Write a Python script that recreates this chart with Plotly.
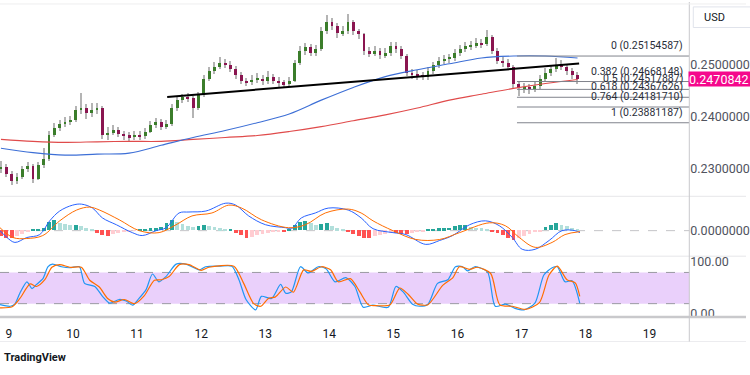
import numpy as np
import plotly.graph_objects as go

# ---------------- data (2-hour candles, x in days of month) ----------------
opens = [0.23002, 0.23039, 0.22908, 0.22777, 0.22852, 0.23002, 0.23058, 0.22814, 0.23076, 0.23189,
         0.23657, 0.23788, 0.23863, 0.23901, 0.23938, 0.24125, 0.24163, 0.24069, 0.24125, 0.24163,
         0.23657, 0.23695, 0.23751, 0.23676, 0.23638, 0.23601, 0.23657, 0.23620, 0.23713, 0.23844,
         0.23901, 0.23807, 0.23863, 0.24163, 0.24313, 0.24369, 0.24350, 0.24163, 0.24406, 0.24725,
         0.24875, 0.24949, 0.25024, 0.24987, 0.24912, 0.24800, 0.24687, 0.24650, 0.24706, 0.24725,
         0.24687, 0.24762, 0.24687, 0.24650, 0.24612, 0.24687, 0.25024, 0.25249, 0.25324, 0.25212,
         0.25287, 0.25624, 0.25811, 0.25736, 0.25586, 0.25624, 0.25811, 0.25624, 0.25568, 0.25249,
         0.25212, 0.25249, 0.25174, 0.25212, 0.25343, 0.25287, 0.25155, 0.24837, 0.24800, 0.24781,
         0.24762, 0.24875, 0.24987, 0.25062, 0.25099, 0.25118, 0.25212, 0.25287, 0.25343, 0.25361,
         0.25399, 0.25380, 0.25511, 0.25249, 0.25062, 0.25024, 0.24949, 0.24612, 0.24537, 0.24556,
         0.24537, 0.24575, 0.24725, 0.24837, 0.24912, 0.24987, 0.24949, 0.24875, 0.24800]
closes = [0.23039, 0.22908, 0.22777, 0.22852, 0.23002, 0.23058, 0.22814, 0.23076, 0.23189, 0.23657,
          0.23788, 0.23863, 0.23901, 0.23938, 0.24125, 0.24163, 0.24069, 0.24125, 0.24163, 0.23657,
          0.23695, 0.23751, 0.23676, 0.23638, 0.23601, 0.23657, 0.23620, 0.23713, 0.23844, 0.23901,
          0.23807, 0.23863, 0.24163, 0.24313, 0.24369, 0.24350, 0.24163, 0.24406, 0.24725, 0.24875,
          0.24949, 0.25024, 0.24987, 0.24912, 0.24800, 0.24687, 0.24650, 0.24706, 0.24725, 0.24687,
          0.24762, 0.24687, 0.24650, 0.24612, 0.24687, 0.25024, 0.25249, 0.25324, 0.25212, 0.25287,
          0.25624, 0.25811, 0.25736, 0.25586, 0.25624, 0.25811, 0.25624, 0.25568, 0.25249, 0.25212,
          0.25249, 0.25174, 0.25212, 0.25343, 0.25287, 0.25155, 0.24837, 0.24800, 0.24781, 0.24762,
          0.24875, 0.24987, 0.25062, 0.25099, 0.25118, 0.25212, 0.25287, 0.25343, 0.25361, 0.25399,
          0.25380, 0.25511, 0.25249, 0.25062, 0.25024, 0.24949, 0.24612, 0.24537, 0.24556, 0.24537,
          0.24575, 0.24725, 0.24837, 0.24912, 0.24987, 0.24949, 0.24875, 0.24800, 0.24708]
highs = [0.23150, 0.23090, 0.22960, 0.22920, 0.23060, 0.23130, 0.23100, 0.23140, 0.23400, 0.23720,
         0.23870, 0.23930, 0.23990, 0.24010, 0.24200, 0.24440, 0.24230, 0.24250, 0.24250, 0.24200,
         0.23800, 0.23830, 0.23800, 0.23730, 0.23700, 0.23730, 0.23720, 0.23780, 0.23920, 0.23980,
         0.23950, 0.23940, 0.24240, 0.24400, 0.24430, 0.24440, 0.24400, 0.24470, 0.24790, 0.24950,
         0.25050, 0.25130, 0.25100, 0.25060, 0.24960, 0.24850, 0.24740, 0.24800, 0.24830, 0.24790,
         0.24860, 0.24820, 0.24760, 0.24700, 0.24760, 0.25080, 0.25350, 0.25400, 0.25380, 0.25370,
         0.25700, 0.25940, 0.25880, 0.25790, 0.25720, 0.25950, 0.25850, 0.25680, 0.25600, 0.25330,
         0.25340, 0.25310, 0.25300, 0.25430, 0.25420, 0.25340, 0.25190, 0.24900, 0.24880, 0.24850,
         0.24950, 0.25050, 0.25130, 0.25180, 0.25200, 0.25290, 0.25370, 0.25420, 0.25450, 0.25490,
         0.25480, 0.25660, 0.25560, 0.25300, 0.25130, 0.25090, 0.24990, 0.24680, 0.24640, 0.24620,
         0.24660, 0.24800, 0.24920, 0.24990, 0.25120, 0.25080, 0.25000, 0.24930, 0.24850]
lows = [0.22930, 0.22850, 0.22690, 0.22720, 0.22800, 0.22950, 0.22730, 0.22790, 0.23020, 0.23150,
        0.23600, 0.23720, 0.23800, 0.23830, 0.23900, 0.24050, 0.23950, 0.24000, 0.24050, 0.23580,
        0.23560, 0.23640, 0.23600, 0.23560, 0.23540, 0.23550, 0.23560, 0.23580, 0.23680, 0.23790,
        0.23740, 0.23760, 0.23820, 0.24100, 0.24250, 0.24270, 0.23980, 0.24120, 0.24370, 0.24680,
        0.24820, 0.24900, 0.24920, 0.24850, 0.24720, 0.24620, 0.24580, 0.24600, 0.24640, 0.24610,
        0.24630, 0.24620, 0.24570, 0.24540, 0.24560, 0.24650, 0.24980, 0.25180, 0.25150, 0.25160,
        0.25250, 0.25580, 0.25650, 0.25500, 0.25530, 0.25580, 0.25560, 0.25480, 0.25180, 0.25130,
        0.25150, 0.25100, 0.25120, 0.25160, 0.25210, 0.25090, 0.24770, 0.24720, 0.24700, 0.24690,
        0.24700, 0.24820, 0.24930, 0.25000, 0.25030, 0.25060, 0.25150, 0.25230, 0.25270, 0.25300,
        0.25310, 0.25350, 0.25190, 0.25000, 0.24950, 0.24880, 0.24530, 0.24400, 0.24450, 0.24430,
        0.24470, 0.24530, 0.24680, 0.24780, 0.24850, 0.24880, 0.24800, 0.24720, 0.24630]
first_bar_day = 8.875
bar_step_days = 2 / 24

# moving averages (sampled every half day)
ma_days = [8.875, 9.375, 9.875, 10.375, 10.875, 11.375, 11.875, 12.375, 12.875, 13.375,
           13.875, 14.375, 14.875, 15.375, 15.875, 16.375, 16.875, 17.375, 17.875]
ma_blue = [0.23395, 0.23311, 0.23264, 0.23282, 0.23301, 0.23451, 0.23601, 0.23732, 0.23882, 0.24050,
           0.24313, 0.24556, 0.24762, 0.24893, 0.25006, 0.25118, 0.25155, 0.25155, 0.25118]
ma_red = [0.23563, 0.23526, 0.23507, 0.23517, 0.23526, 0.23526, 0.23563, 0.23601, 0.23638, 0.23713,
          0.23807, 0.23919, 0.24032, 0.24163, 0.24313, 0.24425, 0.24537, 0.24631, 0.24706]

# trend line
trend_days = [11.47, 17.90]
trend_prices = [0.24375, 0.25011]

# Fibonacci retracement
fib_ratios = ["0", "0.382", "0.5", "0.618", "0.764", "1"]
fib_levels = [0.25154587, 0.24668148, 0.24517887, 0.24367626, 0.24181710, 0.23881187]
fib_start_day = 16.93
last_price = 0.2470842

# MACD
macd_days = [8.860, 8.969, 9.093, 9.279, 9.481, 9.636, 9.792, 9.994, 10.133, 10.304,
             10.459, 10.677, 10.925, 11.080, 11.298, 11.453, 11.655, 11.810, 12.074, 12.385,
             12.540, 12.742, 13.006, 13.317, 13.410, 13.565, 13.782, 13.984, 14.295, 14.497,
             14.683, 14.993, 15.195, 15.506, 15.723, 15.925, 16.189, 16.438, 16.655, 16.857,
             17.012, 17.214, 17.432, 17.633, 17.835, 17.913]
macd_line = [0.0, -0.00014, -0.00024, -0.00014, -0.00008, 0.00020, 0.00040, 0.00052, 0.00054, 0.00046,
             0.00026, 0.00012, -0.00004, -0.00010, 0.0, 0.00006, 0.00036, 0.00038, 0.00040, 0.00056,
             0.00052, 0.00030, 0.00012, 0.00006, 0.00004, 0.00026, 0.00036, 0.00046, 0.00042, 0.00026,
             0.00004, -0.00004, -0.00008, -0.00028, -0.00020, -0.00010, 0.00012, 0.00020, 0.00010, -0.00014,
             -0.00038, -0.00038, -0.00020, 0.0, 0.0, -0.00004]
signal_days = [8.860, 9.062, 9.279, 9.528, 9.792, 10.056, 10.258, 10.413, 10.723, 11.034,
               11.344, 11.608, 11.857, 12.168, 12.431, 12.633, 12.944, 13.363, 13.627, 13.938,
               14.295, 14.497, 14.683, 14.993, 15.351, 15.723, 16.034, 16.500, 16.749, 16.966,
               17.214, 17.478, 17.680, 17.913]
signal_line = [0.00006, -0.00014, -0.00016, -0.00010, 0.00020, 0.00042, 0.00048, 0.00042, 0.00022, 0.0,
               -0.00004, 0.00012, 0.00030, 0.00036, 0.00052, 0.00046, 0.00022, 0.00006, 0.00012, 0.00036,
               0.00044, 0.00036, 0.00020, 0.0, -0.00018, -0.00018, -0.00004, 0.00016, 0.00010, -0.00014,
               -0.00034, -0.00024, -0.00008, -0.00002]
macd_hist = [-0.00012, -0.00016, -0.00016, -0.00012, -0.00008, -0.00004, 0.00001, 0.00003, 0.00004, 0.00018,
             0.00022, 0.00016, 0.00012, 0.00010, 0.00010, 0.00008, 0.00004, 0.00002, -0.00006, -0.00010,
             -0.00012, -0.00008, -0.00006, -0.00004, -0.00002, -0.00001, 0.00001, 0.00002, 0.00004, 0.00004,
             0.00006, 0.00016, 0.00022, 0.00018, 0.00012, 0.00008, 0.00006, 0.00008, 0.00010, 0.00008,
             0.00006, 0.00004, 0.00002, 0.00002, -0.00006, -0.00010, -0.00016, -0.00014, -0.00010, -0.00008,
             -0.00006, -0.00004, -0.00002, -0.00002, 0.00001, 0.00010, 0.00018, 0.00020, 0.00014, 0.00010,
             0.00012, 0.00014, 0.00008, 0.00004, 0.00002, -0.00004, -0.00008, -0.00012, -0.00016, -0.00016,
             -0.00012, -0.00010, -0.00008, -0.00006, -0.00006, -0.00008, -0.00008, -0.00006, -0.00004, -0.00002,
             0.00002, 0.00003, 0.00004, 0.00004, 0.00005, 0.00008, 0.00010, 0.00010, 0.00006, 0.00005,
             0.00004, 0.00002, -0.00002, -0.00006, -0.00010, -0.00016, -0.00020, -0.00016, -0.00012, -0.00008,
             -0.00004, -0.00002, 0.00006, 0.00010, 0.00014, 0.00010, 0.00008, 0.00004, 0.00002]

# Stochastic RSI
k_days = [8.86, 9.02, 9.09, 9.17, 9.28, 9.36, 9.43, 9.53, 9.61, 9.68, 9.82, 9.95, 10.10, 10.18, 10.34,
          10.46, 10.57, 10.72, 10.83, 10.93, 11.03, 11.14, 11.24, 11.34, 11.45, 11.61, 11.76, 11.97, 12.07,
          12.28, 12.48, 12.59, 12.70, 12.85, 12.94, 13.10, 13.24, 13.32, 13.41, 13.55, 13.67, 13.83, 13.95,
          14.09, 14.26, 14.40, 14.53, 14.68, 14.92, 15.04, 15.15, 15.30, 15.41, 15.54, 15.69, 15.85, 15.97,
          16.08, 16.16, 16.27, 16.47, 16.59, 16.75, 16.90, 17.04, 17.21, 17.35, 17.48, 17.56, 17.68, 17.79, 17.91]
k_vals = [18, 15, 19, 40, 62, 49, 57, 68, 91, 96, 91, 89, 91, 59, 53,
          34, 21, 28, 25, 17, 30, 47, 77, 62, 72, 96, 96, 85, 91,
          92, 92, 66, 28, 8, 34, 30, 57, 40, 43, 91, 79, 91, 87,
          62, 70, 53, 13, 17, 13, 53, 43, 19, 15, 19, 59, 66, 91,
          91, 83, 91, 81, 15, 19, 11, 8, 21, 75, 89, 91, 62, 64, 21]
d_days = [8.86, 9.05, 9.17, 9.33, 9.43, 9.56, 9.67, 9.79, 9.95, 10.13, 10.26, 10.41, 10.54, 10.65, 10.80,
          10.96, 11.11, 11.27, 11.38, 11.50, 11.66, 11.81, 12.00, 12.12, 12.51, 12.66, 12.82, 12.93, 13.05,
          13.16, 13.32, 13.44, 13.60, 13.72, 13.88, 14.02, 14.14, 14.33, 14.48, 14.61, 14.76, 14.95, 15.10,
          15.23, 15.38, 15.54, 15.77, 15.93, 16.03, 16.19, 16.31, 16.52, 16.66, 16.86, 17.06, 17.28, 17.43,
          17.56, 17.71, 17.84, 17.91]
d_vals = [12, 14, 30, 58, 53, 66, 90, 95, 90, 90, 65, 52, 30, 23, 28,
          20, 35, 65, 66, 72, 95, 95, 84, 90, 92, 60, 20, 15, 30,
          33, 52, 42, 85, 82, 91, 85, 62, 68, 42, 18, 16, 18, 50,
          38, 19, 18, 55, 70, 91, 86, 90, 78, 18, 15, 9, 22, 75,
          92, 66, 60, 34]

day_ticks = [9, 10, 11, 12, 13, 14, 15, 16, 17, 18, 19]
price_ticks = [0.23, 0.24, 0.25]
price_tick_text = ["0.2300000", "0.2400000", "0.2500000"]

# ---------------- figure ----------------
W, H = 750, 375
XDOM = 693 / W
X_RANGE = [8.86, 19.62]
def py(px):  # pixel row -> paper y
    return 1 - px / H

bar_days = first_bar_day + np.arange(len(closes)) * bar_step_days
o = np.array(opens); c = np.array(closes); hi = np.array(highs); lo = np.array(lows)
up = c >= o
body_base = np.minimum(o, c)
body_h = np.maximum(np.abs(c - o), 0.00004)

fig = go.Figure()

# wicks
fig.add_trace(go.Bar(x=bar_days, y=hi - lo, base=lo, width=0.017,
                     marker=dict(color="#b4b4b4", line=dict(width=0)), xaxis="x", yaxis="y"))
# bodies
fig.add_trace(go.Bar(x=bar_days, y=body_h, base=body_base, width=0.045,
                     marker=dict(color=np.where(up, "#3b7d2b", "#8a1550").tolist(), line=dict(width=0)),
                     xaxis="x", yaxis="y"))
# MAs
fig.add_trace(go.Scatter(x=ma_days, y=ma_red, mode="lines",
                         line=dict(color="#e04b4b", width=1.1, shape="spline"), xaxis="x", yaxis="y"))
fig.add_trace(go.Scatter(x=ma_days, y=ma_blue, mode="lines",
                         line=dict(color="#3d6fd6", width=1.1, shape="spline"), xaxis="x", yaxis="y"))
# trend line
fig.add_trace(go.Scatter(x=trend_days, y=trend_prices, mode="lines",
                         line=dict(color="#000000", width=2), xaxis="x", yaxis="y"))

# MACD histogram colours
hist = np.array(macd_hist)
hcols = []
for i, h in enumerate(hist):
    prev = hist[i - 1] if i > 0 else 0
    if h >= 0:
        hcols.append("#26a69a" if h >= prev else "#b2dfdb")
    else:
        hcols.append("#ff5252" if h <= prev else "#ffcdd2")
fig.add_trace(go.Bar(x=bar_days, y=hist, width=0.06,
                     marker=dict(color=hcols, line=dict(width=0)), xaxis="x2", yaxis="y2"))
fig.add_trace(go.Scatter(x=macd_days, y=macd_line, mode="lines",
                         line=dict(color="#2962ff", width=1, shape="spline"), xaxis="x2", yaxis="y2"))
fig.add_trace(go.Scatter(x=signal_days, y=signal_line, mode="lines",
                         line=dict(color="#ff6d00", width=1, shape="spline"), xaxis="x2", yaxis="y2"))

# Stoch RSI
fig.add_trace(go.Scatter(x=k_days, y=k_vals, mode="lines",
                         line=dict(color="#2196f3", width=1.2, shape="spline", smoothing=0.7),
                         xaxis="x3", yaxis="y3"))
fig.add_trace(go.Scatter(x=d_days, y=d_vals, mode="lines",
                         line=dict(color="#ff6d00", width=1.2, shape="spline", smoothing=0.7),
                         xaxis="x3", yaxis="y3"))

shapes = []
annotations = []

# RSI band and dashed bounds
shapes.append(dict(type="rect", xref="paper", yref="y3", x0=0, x1=XDOM, y0=20, y1=80,
                   fillcolor="#ead0fb", line=dict(width=0), layer="below"))
for lvl in (20, 80):
    shapes.append(dict(type="line", xref="paper", yref="y3", x0=0, x1=XDOM, y0=lvl, y1=lvl,
                       line=dict(color="#9a9aa2", width=1, dash="dash"), layer="below"))
# MACD zero line
shapes.append(dict(type="line", xref="paper", yref="y2", x0=0, x1=XDOM, y0=0, y1=0,
                   line=dict(color="#c4c4c8", width=1, dash="dash"), layer="below"))

# Fibonacci levels
for ratio, lvl in zip(fib_ratios, fib_levels):
    shapes.append(dict(type="line", xref="x", yref="y", x0=fib_start_day, x1=X_RANGE[1], y0=lvl, y1=lvl,
                       line=dict(color="#80838c", width=1)))
    annotations.append(dict(x=19.56, y=lvl, xref="x", yref="y", xanchor="right", yanchor="bottom",
                            yshift=2, showarrow=False, text=f"{ratio} ({lvl:.8f})",
                            font=dict(family="Roboto", size=10.5, color="#2a2e39")))

# pane separators and frame lines
for ypx, col, w in ((198, "#e6e6e9", 1), (259, "#e6e6e9", 1), (321, "#c9c9cc", 2.5), (346, "#ececef", 1)):
    shapes.append(dict(type="line", xref="paper", yref="paper", x0=0, x1=1, y0=py(ypx), y1=py(ypx),
                       line=dict(color=col, width=w)))
shapes.append(dict(type="line", xref="paper", yref="paper", x0=XDOM, x1=XDOM, y0=py(346), y1=1,
                   line=dict(color="#c9c9cc", width=1)))
shapes.append(dict(type="line", xref="paper", yref="paper", x0=0, x1=1, y0=py(2), y1=py(2),
                   line=dict(color="#eeeeef", width=1)))
# USD box
shapes.append(dict(type="rect", xref="paper", yref="paper", x0=697 / W, x1=1.01, y0=py(26), y1=py(5),
                   line=dict(color="#e0e3eb", width=1), fillcolor="white"))
annotations.append(dict(x=706 / W, y=py(15.5), xref="paper", yref="paper", xanchor="left", yanchor="middle",
                        showarrow=False, text="USD", font=dict(family="Roboto", size=11, color="#131722")))
# current price label
annotations.append(dict(x=XDOM, y=last_price, xref="paper", yref="y", xanchor="left", yanchor="middle",
                        showarrow=False, text=f"{last_price:.7f}", bgcolor="#f5088c", width=66, height=14,
                        align="left", borderpad=0, xshift=-1,
                        font=dict(family="Roboto", size=12.5, color="white")))
# watermark
annotations.append(dict(x=2 / W, y=py(362), xref="paper", yref="paper", xanchor="left", yanchor="middle",
                        showarrow=False, text="<b>TradingView</b>",
                        font=dict(family="Roboto", size=11, color="#131722")))

axis_common = dict(showgrid=False, zeroline=False, showline=False, ticks="")
fig.update_layout(
    width=W, height=H, margin=dict(l=0, r=0, t=0, b=0),
    paper_bgcolor="white", plot_bgcolor="white", showlegend=False,
    barmode="overlay", bargap=0,
    font=dict(family="Roboto", size=12, color="#131722"),
    xaxis=dict(domain=[0, XDOM], range=X_RANGE, anchor="y", showticklabels=False, **axis_common),
    xaxis2=dict(domain=[0, XDOM], range=X_RANGE, anchor="y2", matches="x", showticklabels=False, **axis_common),
    xaxis3=dict(domain=[0, XDOM], range=X_RANGE, anchor="y3", matches="x", showticklabels=True,
                tickvals=day_ticks, ticktext=[str(d) for d in day_ticks], ticklabelstandoff=9,
                tickfont=dict(family="Roboto", size=12, color="#131722"), **axis_common),
    yaxis=dict(domain=[py(197), 1], range=[0.22496, 0.26186], side="right", anchor="x",
               tickvals=price_ticks, ticktext=price_tick_text,
               tickfont=dict(family="Roboto", size=12.5, color="#50535e"), **axis_common),
    yaxis2=dict(domain=[py(258), py(198)], range=[-0.0005, 0.0007], side="right", anchor="x2",
                tickvals=[0], ticktext=["0.0000000"],
                tickfont=dict(family="Roboto", size=12.5, color="#50535e"), **axis_common),
    yaxis3=dict(domain=[py(320), py(259)], range=[-3.8, 111.3], side="right", anchor="x3",
                tickvals=[0, 100], ticktext=["0.00", "100.00"],
                tickfont=dict(family="Roboto", size=12.5, color="#50535e"), **axis_common),
    shapes=shapes, annotations=annotations,
)

fig.write_html("out.html", config={"displayModeBar": False},
               post_script="document.body.style.margin='0';document.body.style.overflow='hidden';")
